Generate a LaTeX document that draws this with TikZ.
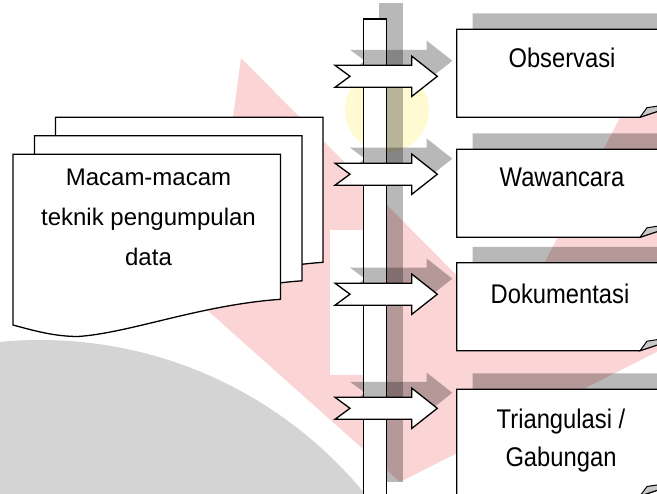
\documentclass[tikz,border=0pt]{standalone}
\usepackage{fontspec}
\setmainfont{Liberation Sans}
\newfontfamily\boxfont[FakeStretch=0.88]{Liberation Sans}
\definecolor{wmpink}{RGB}{251,213,213}
\definecolor{wmgrey}{RGB}{212,212,212}
\definecolor{wmyellow}{RGB}{255,250,210}
\definecolor{foldgrey}{RGB}{200,200,200}
\begin{document}
\begin{tikzpicture}[x=1pt,y=-1pt,
  outl/.style={draw=black,line width=1.3pt,line join=miter},
  paper/.style={outl,fill=white},
  shad/.style={fill=black,fill opacity=0.28},
  boxtext/.style={font=\boxfont\fontsize{27}{38}\selectfont,anchor=base,inner sep=0pt},
  srctext/.style={font=\fontsize{24}{40}\selectfont,anchor=base,inner sep=0pt},
]
\useasboundingbox (0,0) rectangle (657,494);
\clip (0,0) rectangle (657,494);
% ---- faint background shapes
\fill[wmpink] (241,58) -- (510,329) -- (650,60) -- (700,60) -- (700,330) -- (400,482) -- (207,310) -- cycle;
\fill[white] (330,230) rectangle (363,375);
\fill[wmgrey] (40,760) circle[radius=420];
\fill[wmyellow] (387,110) circle[radius=42];
% ---- stacked documents
\foreach \dx/\dy in {42.5/-37,21.5/-18.5,0/0}{
  \begin{scope}[shift={(\dx,\dy)}]
    \draw[paper] (13,154.3) -- (280.5,154.3) -- (280.5,299.3)
      .. controls (200,305) and (130,333) .. (78,336.5)
      .. controls (55,336.5) and (35,331) .. (13,325) -- cycle;
  \end{scope}
}
\node[srctext] (src1) at (148.5,185.7) {Macam-macam};
\node[srctext] (src2) at (148.5,225.7) {teknik pengumpulan};
\node[srctext] (src3) at (148.5,265.2) {data};
% ---- vertical bar
\fill[shad] (379.3,3.5) rectangle (402.7,482);
\draw[paper] (363.3,19) rectangle (386.7,505);
% ---- block arrows
\foreach \c in {76.3,174.2,294.2,408.3}{
  \fill[shad,shift={(15,-15.5)}] (335,\c-11) -- (411.7,\c-11) -- (411.7,\c-20.2) -- (437.3,\c)
     -- (411.7,\c+20.2) -- (411.7,\c+11) -- (335,\c+11) -- (350,\c) -- cycle;
}
\foreach \c in {76.3,174.2,294.2,408.3}{
  \draw[paper] (335,\c-11) -- (411.7,\c-11) -- (411.7,\c-20.2) -- (437.3,\c)
     -- (411.7,\c+20.2) -- (411.7,\c+11) -- (335,\c+11) -- (350,\c) -- cycle;
}
% ---- note boxes with folded corner
\foreach \t/\b in {29.3/117.2,149.3/237.3,262.7/350.7,389.3/496}{
  \fill[shad,shift={(16,-15.8)}] (456.7,\t) -- (670,\t) -- (670,\b-10) -- (640,\b) -- (456.7,\b) -- cycle;
}
\foreach \t/\b in {29.3/117.2,149.3/237.3,262.7/350.7,389.3/496}{
  \draw[paper] (456.7,\t) -- (670,\t) -- (670,\b-10) -- (640,\b) -- (456.7,\b) -- cycle;
  \draw[outl,fill=foldgrey,line width=1pt] (640,\b) -- (647,\b-9.5) -- (670,\b-13) -- (670,\b-10) -- cycle;
}
\node[boxtext] (obs) at (562,68) {Observasi};
\node[boxtext] (waw) at (562,186.7) {Wawancara};
\node[boxtext] (dok) at (560,303.3) {Dokumentasi};
\node[boxtext] (tri1) at (561,428.3) {Triangulasi /};
\node[boxtext] (tri2) at (561,466.7) {Gabungan};
\end{tikzpicture}
\end{document}
